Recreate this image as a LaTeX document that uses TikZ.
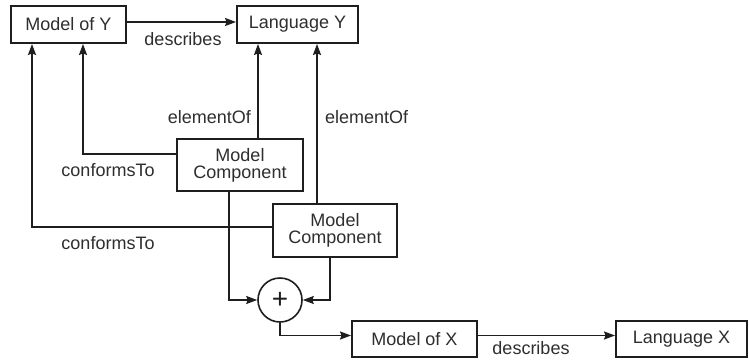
\documentclass[tikz,border=0pt]{standalone}
\usepackage{fontspec}
\setmainfont{Liberation Sans}
\usetikzlibrary{arrows.meta,calc}
\definecolor{ink}{HTML}{1E1E1E}
\definecolor{txt}{HTML}{2E2E2E}
\tikzset{
  box/.style={draw=ink, line width=1.9pt, fill=white, inner sep=0pt,
    text=txt, font=\fontsize{18}{17}\selectfont, align=center},
  arr/.style={draw=ink, line width=1.7pt,
    -{Stealth[length=11pt,width=8pt,inset=1.5pt]}},
  lbl/.style={text=txt, font=\fontsize{18}{17}\selectfont, inner sep=0pt}
}
\begin{document}
\begin{tikzpicture}[x=1pt,y=-1pt]
\useasboundingbox (0,0) rectangle (749,359);

% boxes
\node[box, minimum width=115pt, minimum height=37pt] (MY) at (68.5,24.5) {Model of Y};
\node[box, minimum width=121pt, minimum height=37pt] (LY) at (297.5,24.5) {Language Y};
\node[box, minimum width=126pt, minimum height=52pt] (MC1) at (240,165) {Model\\Component};
\node[box, minimum width=124pt, minimum height=53pt] (MC2) at (335,230.5) {Model\\Component};
\node[draw=ink, line width=1.6pt, circle, minimum size=44pt, inner sep=0pt,
      text=ink, font=\fontsize{28}{28}\selectfont] (P) at (280,300) {+};
\node[box, minimum width=125pt, minimum height=36.5pt] (MX) at (414.5,339) {Model of X};
\node[box, minimum width=131pt, minimum height=36.5pt] (LX) at (681.5,339) {Language X};

% connectors
\draw[arr] ([yshift=2.5pt]MY.east) -- ([yshift=2.5pt]MY.east -| LY.west);
\draw[arr] ([yshift=11pt]MC1.west) -| ([xshift=14.5pt]MY.south);
\draw[arr] ([yshift=3.5pt]MC2.west) -| ([xshift=-36.5pt]MY.south);
\draw[arr] ([xshift=18pt]MC1.north) -- ([xshift=18pt]MC1.north |- LY.south);
\draw[arr] ([xshift=-18pt]MC2.north) -- ([xshift=-18pt]MC2.north |- LY.south);
\draw[arr] ([xshift=-11pt]MC1.south) |- (P.west);
\draw[arr] ([xshift=-5pt]MC2.south) |- (P.east);
\draw[arr] (P.south) |- ([yshift=3.5pt]MX.west);
\draw[arr] ([yshift=3.5pt]MX.east) -- ([yshift=3.5pt]MX.east -| LX.west);

% labels
\node[lbl] (d1) at (183,39) {describes};
\node[lbl, anchor=east] (e1) at (251,117) {elementOf};
\node[lbl, anchor=west] (e2) at (325,117) {elementOf};
\node[lbl] (c1) at (108,170) {conformsTo};
\node[lbl] (c2) at (108,243) {conformsTo};
\node[lbl] (d2) at (531,348.5) {describes};
\end{tikzpicture}
\end{document}
